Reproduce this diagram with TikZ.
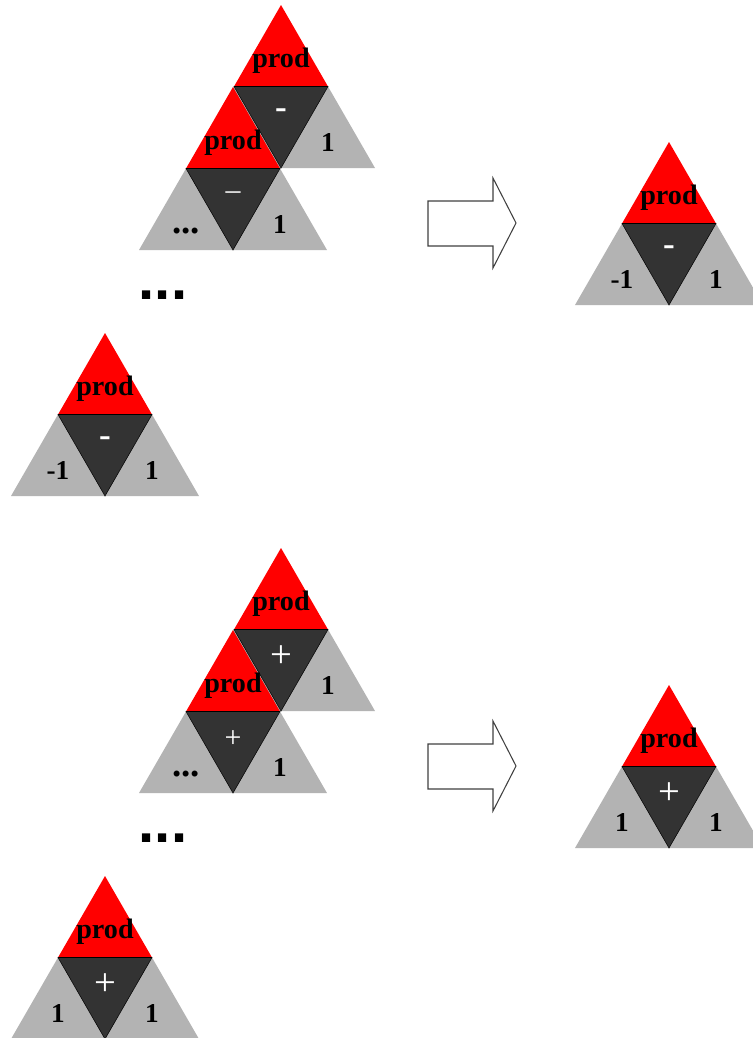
\documentclass[tikz,border=0pt]{standalone}
\usepackage{fontspec}
\setmainfont{Liberation Serif}
\newfontfamily\dotsfont{Liberation Sans}
\usepackage{xcolor}

\definecolor{prodred}{HTML}{FF0000}
\definecolor{opdark}{HTML}{333333}
\definecolor{leafgrey}{HTML}{B3B3B3}

% one product tree: name, apex, operator, left leaf, right leaf
\newcommand{\prodtri}[5]{%
  \begin{scope}[shift={#2}]
    \fill[prodred] (0,0) -- (47,81.5) -- (-47,81.5) -- cycle;
    \fill[leafgrey] (-47,81.5) -- (0,163) -- (-94,163) -- cycle;
    \fill[leafgrey] (47,81.5) -- (94,163) -- (0,163) -- cycle;
    \filldraw[fill=opdark, draw=black, line width=0.3pt] (-47,81.5) -- (47,81.5) -- (0,163) -- cycle;
    \node[prodlabel] (#1-prod) at (0,56) {prod};
    \node[oplabel] (#1-op) at (0,109) {#3};
    \node[leaflabel] (#1-left) at (-47,138) {#4};
    \node[leaflabel] (#1-right) at (47,138) {#5};
  \end{scope}}

% hollow block arrow, left end of its shaft given
\newcommand{\blockarrow}[1]{%
  \draw[blockstroke, shift={#1}] (0,0) -- (65,0) -- (65,-23) -- (88,22) -- (65,67) -- (65,45) -- (0,45) -- cycle;}

\begin{document}
\begin{tikzpicture}[
    x=0.02cm, y=-0.02cm,
    prodlabel/.style={inner sep=0pt, font=\bfseries\fontsize{16}{19}\selectfont},
    oplabel/.style={inner sep=0pt, text=white},
    leaflabel/.style={inner sep=0pt, text height=10pt, text depth=0pt, font=\bfseries\fontsize{15.5}{18}\selectfont},
    bigdots/.style={inner sep=0pt, font=\dotsfont\bfseries\fontsize{33}{36}\selectfont},
    blockstroke/.style={draw=black!75, fill=white, line width=0.6pt, line join=miter}
]
\useasboundingbox (0,0) rectangle (753,1038);
\clip (0,0) rectangle (753,1038);

% minus rule
\prodtri{mtop}{(281,5)}{\bfseries\fontsize{20}{22}\selectfont -}{}{1}
\prodtri{msub}{(233,87)}{\fontsize{17}{20}\selectfont\textendash}{\fontsize{21}{22}\selectfont ...}{1}
\node[bigdots] (mdots) at (163,295) {...};
\prodtri{mbase}{(105,333)}{\bfseries\fontsize{20}{22}\selectfont -}{-1}{1}
\blockarrow{(428,201)}
\prodtri{mres}{(669,142)}{\bfseries\fontsize{20}{22}\selectfont -}{-1}{1}

% plus rule
\prodtri{ptop}{(281,548)}{\fontsize{22}{24}\selectfont +}{}{1}
\prodtri{psub}{(233,630)}{\fontsize{17}{20}\selectfont +}{\fontsize{21}{22}\selectfont ...}{1}
\node[bigdots] (pdots) at (163,838) {...};
\prodtri{pbase}{(105,876)}{\fontsize{22}{24}\selectfont +}{1}{1}
\blockarrow{(428,744)}
\prodtri{pres}{(669,685)}{\fontsize{22}{24}\selectfont +}{1}{1}

\end{tikzpicture}
\end{document}
